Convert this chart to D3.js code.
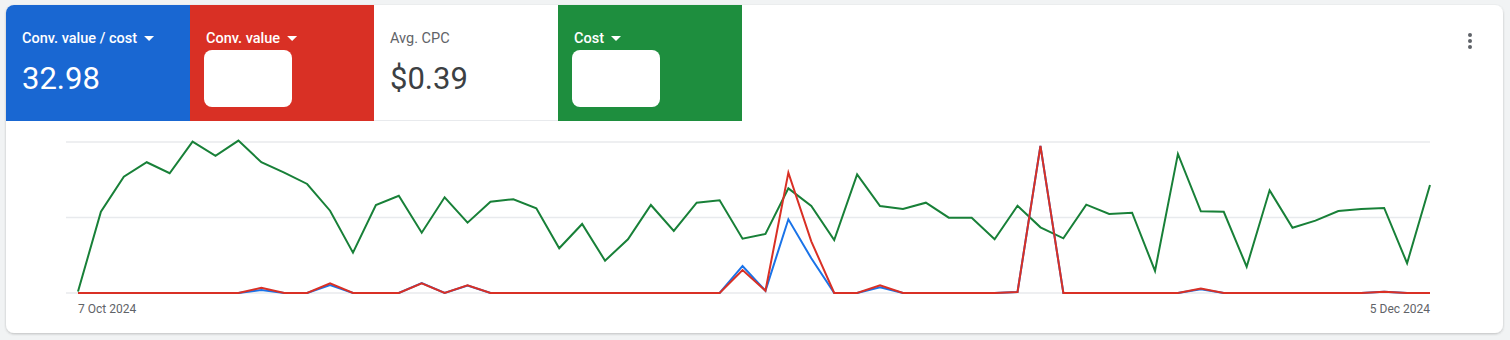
<!DOCTYPE html>
<html>
<head>
<meta charset="utf-8">
<script src="https://cdn.jsdelivr.net/npm/d3@7"></script>
<style>
  html, body { margin: 0; padding: 0; background: #f1f3f4; }
  body { width: 1510px; height: 340px; overflow: hidden; font-family: Roboto, "Noto Sans", Arial, sans-serif; }
</style>
</head>
<body>
<svg id="chart" width="1510" height="340"></svg>
<script>
// cartões de métricas
const cards = [
  { title: "Conv. value / cost", value: "32.98", bg: "#1967d2", fg: "#ffffff", dropdown: true, blank: false },
  { title: "Conv. value", value: "", bg: "#d93025", fg: "#ffffff", dropdown: true, blank: true },
  { title: "Avg. CPC", value: "$0.39", bg: "#ffffff", fg: "#3c4043", dropdown: false, blank: false },
  { title: "Cost", value: "", bg: "#1e8e3e", fg: "#ffffff", dropdown: true, blank: true }
];

// datas: 7 Oct 2024 a 5 Dec 2024 (60 dias)
const startDate = new Date(2024, 9, 7);
const endDate = new Date(2024, 11, 5);
const tickLabels = ["7 Oct 2024", "5 Dec 2024"];

// séries (escala relativa 0–100, cada uma normalizada)
const costValues = [1, 53.8, 77, 86.6, 79.3, 100.2, 90.9, 100.9, 86.6, 79.7,
  72.2, 54.5, 26.7, 58.3, 64.4, 39.9, 63.4, 46.6, 60.5, 62.1,
  56.1, 29.6, 45.7, 21.4, 35.6, 58.3, 41.1, 59.8, 61.4, 36,
  39.1, 69.3, 57.6, 35.1, 78.6, 57.6, 55.6, 59.8, 49.9, 49.9,
  35.6, 57.8, 43.5, 36.2, 58.5, 52.3, 53.2, 14.6, 92.1, 54.1,
  53.8, 17.4, 68, 43.2, 47.9, 54.3, 55.6, 56.3, 19.7, 71.5];
const convValueCostValues = [0, 0, 0, 0, 0, 0, 0, 0, 2, 0,
  0, 5.3, 0, 0, 0, 6.6, 0, 5, 0, 0,
  0, 0, 0, 0, 0, 0, 0, 0, 0, 17.9,
  1.5, 48.8, 23, 0, 0, 3.8, 0, 0, 0, 0,
  0, 0.7, 97.4, 0, 0, 0, 0, 0, 0, 2.5,
  0, 0, 0, 0, 0, 0, 0, 0.9, 0, 0];
const convValueValues = [0, 0, 0, 0, 0, 0, 0, 0, 3.5, 0,
  0, 6.4, 0, 0, 0, 6.4, 0, 5.1, 0, 0,
  0, 0, 0, 0, 0, 0, 0, 0, 0, 15.2,
  1.5, 79.7, 34.2, 0, 0, 5.1, 0, 0, 0, 0,
  0, 0.7, 97.4, 0, 0, 0, 0, 0, 0, 2.9,
  0, 0, 0, 0, 0, 0, 0, 0.9, 0, 0];
const gridValues = [0, 50, 100];

const dates = d3.timeDay.range(startDate, d3.timeDay.offset(endDate, 1));

const svg = d3.select("#chart");

// sombra do cartão
const defs = svg.append("defs");
const f = defs.append("filter").attr("id", "shadow").attr("x", "-5%").attr("y", "-5%").attr("width", "110%").attr("height", "115%");
f.append("feDropShadow").attr("dx", 0).attr("dy", 1).attr("stdDeviation", 1.2).attr("flood-color", "#3c4043").attr("flood-opacity", 0.3);
defs.append("clipPath").attr("id", "cardClip")
  .append("rect").attr("x", 6).attr("y", 5).attr("width", 1497).attr("height", 328).attr("rx", 8);

svg.append("rect")
  .attr("x", 6).attr("y", 5).attr("width", 1497).attr("height", 328).attr("rx", 8)
  .attr("fill", "#fff").attr("filter", "url(#shadow)");

// Cartões no topo
const cardW = 184, cardH = 116, cardX0 = 6, cardY0 = 5;
const cg = svg.append("g").attr("clip-path", "url(#cardClip)");
cards.forEach((c, i) => {
  const x = cardX0 + i * cardW;
  cg.append("rect").attr("x", x).attr("y", cardY0).attr("width", cardW).attr("height", cardH).attr("fill", c.bg);
  if (c.bg === "#ffffff") {
    cg.append("line").attr("x1", x).attr("x2", x + cardW).attr("y1", cardY0 + cardH - 0.5).attr("y2", cardY0 + cardH - 0.5)
      .attr("stroke", "#e8eaed").attr("stroke-width", 1);
  }
  const t = cg.append("text").attr("x", x + 16).attr("y", 43)
    .style("font-size", "14.5px").style("font-weight", c.dropdown ? 500 : 400)
    .style("fill", c.dropdown ? c.fg : "#5f6368").text(c.title);
  if (c.dropdown) {
    const w = t.node().getComputedTextLength();
    const tx = x + 16 + w + 7;
    cg.append("path").attr("d", `M${tx},36 L${tx + 10},36 L${tx + 5},41 Z`).attr("fill", c.fg);
  }
  if (c.blank) {
    cg.append("rect").attr("x", x + 14).attr("y", 50).attr("width", 88).attr("height", 57).attr("rx", 8).attr("fill", "#fff");
  } else {
    cg.append("text").attr("x", x + 16).attr("y", 89)
      .style("font-size", "31px").style("fill", c.fg).text(c.value);
  }
});

// menu (três pontos)
[0, 1, 2].forEach((k) => {
  svg.append("circle").attr("cx", 1470).attr("cy", 35 + k * 6).attr("r", 2).attr("fill", "#5f6368");
});

// Área do gráfico
const x = d3.scaleTime().domain([startDate, endDate]).range([78, 1430]);
const y = d3.scaleLinear().domain([0, 100]).range([293, 142]);

svg.append("g").selectAll("line").data(gridValues).join("line")
  .attr("x1", 66).attr("x2", 1430)
  .attr("y1", (d) => y(d)).attr("y2", (d) => y(d))
  .attr("stroke", "#e8eaed").attr("stroke-width", 1.5);

const line = d3.line().x((d, i) => x(dates[i])).y((d) => y(d));

[
  { data: costValues, color: "#188038" },
  { data: convValueCostValues, color: "#1a73e8" },
  { data: convValueValues, color: "#d93025" }
].forEach((s) => {
  svg.append("path").datum(s.data).attr("d", line)
    .attr("fill", "none").attr("stroke", s.color).attr("stroke-width", 2)
    .attr("stroke-linejoin", "miter");
});

// rótulos do eixo x
svg.append("text").attr("x", x(startDate)).attr("y", 313)
  .style("font-size", "12px").style("fill", "#5f6368").text(tickLabels[0]);
svg.append("text").attr("x", x(endDate)).attr("y", 313).attr("text-anchor", "end")
  .style("font-size", "12px").style("fill", "#5f6368").text(tickLabels[1]);
</script>
</body>
</html>
